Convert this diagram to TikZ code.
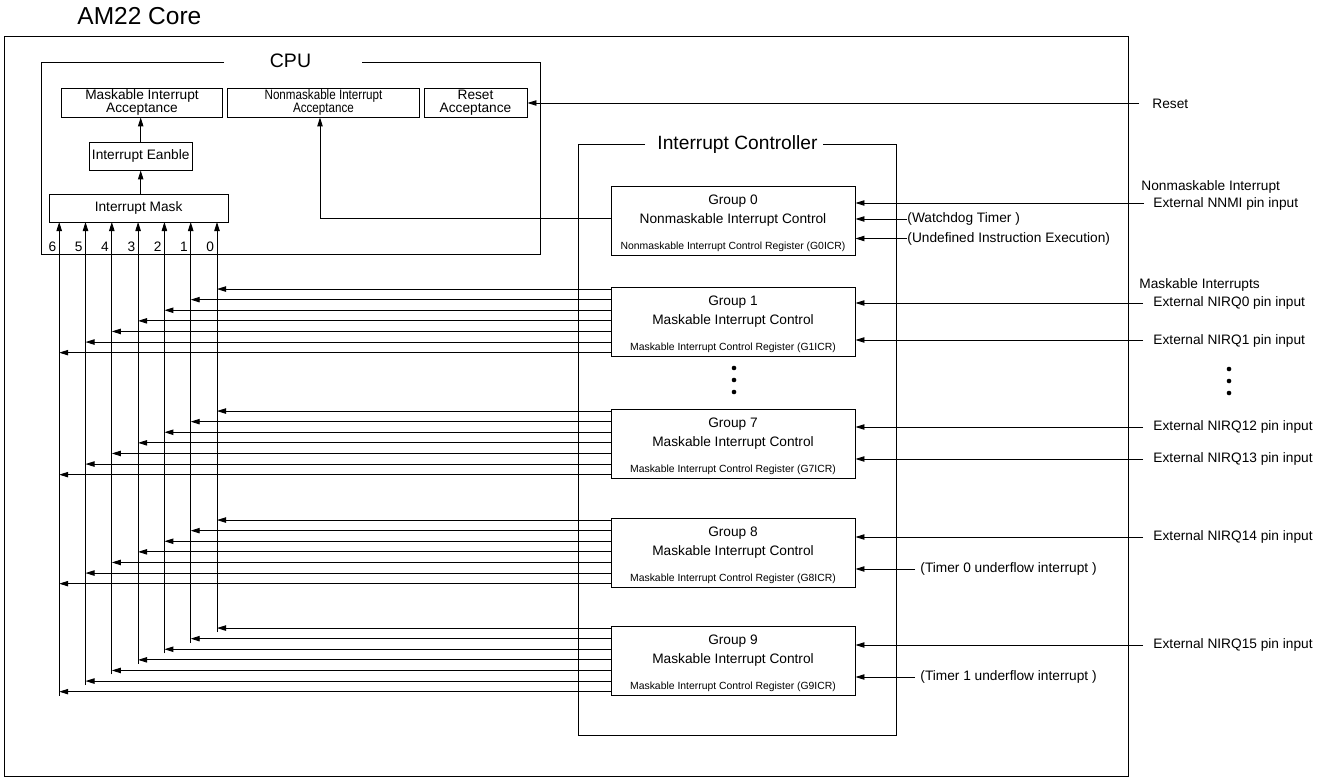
\documentclass[tikz,border=0pt]{standalone}
\usepackage{fontspec}
\setmainfont{Liberation Sans}
\usepackage{graphicx}
\usetikzlibrary{arrows.meta,calc}

\newcommand\fsz[1]{\fontsize{#1}{#1}\selectfont}
\newcommand\narrow[1]{\scalebox{0.85}[1]{#1}}

% one interrupt group: name, top edge, three text lines
\newcommand\ctlgroup[5]{%
  \node[box, minimum width=244pt, minimum height=69pt] (#1) at (733,#2+34.5) {};
  \node[lbl] (#1-a) at ($(#1.north)+(0,15.5)$) {#3};
  \node[lbl] (#1-b) at ($(#1.north)+(0,34.5)$) {#4};
  \node[small] (#1-c) at ($(#1.north)+(0,61.5)$) {#5};
}
% seven level outputs of a maskable group, one per mask input
\newcommand\leveloutputs[1]{%
  \foreach \k in {0,...,6} {
    \coordinate (#1-o\k) at ($(#1.north west)+(0,2.5+10.6*\k)$);
    \draw[arr] (#1-o\k) -- (b\k |- #1-o\k);
  }
}

\begin{document}
\begin{tikzpicture}[x=1pt,y=-1pt,line width=0.9pt,
  arr/.style={-{Triangle[length=9pt,width=5.4pt]}},
  box/.style={draw, inner sep=0pt, align=center},
  lbl/.style={font=\fsz{13.7}, inner sep=0pt},
  small/.style={font=\fsz{10.4}, inner sep=0pt},
  two/.style={box, font=\fontsize{13.7}{13.3}\selectfont},
  dot/.style={circle, fill, inner sep=0pt, minimum size=4.6pt}]

\useasboundingbox (0,0) rectangle (1329,778);

% core frame and title
\draw (4,36.5) rectangle (1128,776.5);
\node[font=\fsz{24.5}, anchor=base west, inner sep=0pt] (core) at (77,25) {AM22 Core};

% CPU frame
\draw (224,62) -- (41,62) -- (41,254) -- (540,254) -- (540,62) -- (362,62);
\node[font=\fsz{19.5}, anchor=base, inner sep=0pt] (cpu) at (290.5,68) {CPU};

\node[two, minimum width=161pt, minimum height=29pt] (MIA) at (142,102.5)
  {Maskable Interrupt\\Acceptance};
\node[two, minimum width=192pt, minimum height=29pt] (NMIA) at (323.5,102.5)
  {\narrow{Nonmaskable Interrupt}\\\narrow{Acceptance}};
\node[two, minimum width=103pt, minimum height=29pt] (RA) at (475.5,102.5)
  {Reset\\Acceptance};
\node[box, font=\fsz{13.7}, minimum width=103pt, minimum height=28pt] (IE) at (140.7,156)
  {Interrupt Eanble};
\node[box, font=\fsz{13.7}, minimum width=179pt, minimum height=28pt] (IM) at (138.6,208)
  {Interrupt Mask};

\draw[arr] (IE.north) -- (IE.north |- MIA.south);
\draw[arr] (IE.south |- IM.north) -- (IE.south);

% mask inputs 0..6
\foreach \k/\x in {0/217,1/190.7,2/164.4,3/138.1,4/111.8,5/85.5,6/59.2} {
  \coordinate (b\k) at (\x,222);
  \node[lbl, anchor=east] (n\k) at (\x-2.5,247) {\k};
}

% interrupt controller frame
\draw (645,144) -- (578,144) -- (578,735) -- (896,735) -- (896,144) -- (823,144);
\node[font=\fsz{19.2}, anchor=base, inner sep=0pt] (ic) at (737.5,150) {Interrupt Controller};

\ctlgroup{G0}{186}{Group 0}{Nonmaskable Interrupt Control}{Nonmaskable Interrupt Control Register (G0ICR)}
\ctlgroup{G1}{287}{Group 1}{Maskable Interrupt Control}{Maskable Interrupt Control Register (G1ICR)}
\ctlgroup{G7}{409}{Group 7}{Maskable Interrupt Control}{Maskable Interrupt Control Register (G7ICR)}
\ctlgroup{G8}{518}{Group 8}{Maskable Interrupt Control}{Maskable Interrupt Control Register (G8ICR)}
\ctlgroup{G9}{626}{Group 9}{Maskable Interrupt Control}{Maskable Interrupt Control Register (G9ICR)}

\node[dot] (cd1) at (734,368) {};
\node[dot] (cd2) at (734,380) {};
\node[dot] (cd3) at (734,392) {};

\leveloutputs{G1}
\leveloutputs{G7}
\leveloutputs{G8}
\leveloutputs{G9}

% mask input lines, from the last group up to the mask
\foreach \k in {0,...,6}
  \draw[arr] ($(b\k |- G9-o\k)+(0,4)$) -- (b\k);

% nonmaskable request to the CPU
\coordinate (g0-nmi) at ($(G0.west)+(0,-2.5)$);
\draw[arr] (g0-nmi) -| ($(NMIA.south)+(-3.5,0)$);

% reset
\node[lbl, anchor=west] (reset) at (1152,104) {Reset};
\coordinate (reset-in) at (1139,103);
\draw[arr] (reset-in) -- (RA.east |- reset-in);

% group 0 sources
\node[lbl, anchor=west] (nmihdr) at (1141,187) {Nonmaskable Interrupt};
\node[lbl, anchor=west] (nnmi) at (1153,204) {External NNMI pin input};
\coordinate (nnmi-in) at (1144,203);
\draw[arr] (nnmi-in) -- (G0.east |- nnmi-in);
\node[lbl, anchor=west] (wdt) at (907,219) {(Watchdog Timer )};
\draw[arr] (wdt.west) -- (G0.east |- wdt.west);
\node[lbl, anchor=west] (undef) at (907,238.5) {(Undefined Instruction Execution)};
\draw[arr] (undef.west) -- (G0.east |- undef.west);

% maskable sources
\node[lbl, anchor=west] (mihdr) at (1139,285) {Maskable Interrupts};
\node[lbl, anchor=west] (irq0) at (1153,302.5) {External NIRQ0 pin input};
\coordinate (irq0-in) at (1143,303);
\draw[arr] (irq0-in) -- (G1.east |- irq0-in);
\node[lbl, anchor=west] (irq1) at (1153,340.5) {External NIRQ1 pin input};
\coordinate (irq1-in) at (1143,340);
\draw[arr] (irq1-in) -- (G1.east |- irq1-in);

\node[dot] (rd1) at (1229,369) {};
\node[dot] (rd2) at (1229,381) {};
\node[dot] (rd3) at (1229,393) {};

\node[lbl, anchor=west] (irq12) at (1153,427) {External NIRQ12 pin input};
\coordinate (irq12-in) at (1143,427);
\draw[arr] (irq12-in) -- (G7.east |- irq12-in);
\node[lbl, anchor=west] (irq13) at (1153,459) {External NIRQ13 pin input};
\coordinate (irq13-in) at (1143,459);
\draw[arr] (irq13-in) -- (G7.east |- irq13-in);

\node[lbl, anchor=west] (irq14) at (1153,537) {External NIRQ14 pin input};
\coordinate (irq14-in) at (1143,537);
\draw[arr] (irq14-in) -- (G8.east |- irq14-in);
\node[lbl, anchor=west] (tm0) at (920,569) {(Timer 0 underflow interrupt )};
\coordinate (tm0-in) at (915,569);
\draw[arr] (tm0-in) -- (G8.east |- tm0-in);

\node[lbl, anchor=west] (irq15) at (1153,645) {External NIRQ15 pin input};
\coordinate (irq15-in) at (1143,645);
\draw[arr] (irq15-in) -- (G9.east |- irq15-in);
\node[lbl, anchor=west] (tm1) at (920,677) {(Timer 1 underflow interrupt )};
\coordinate (tm1-in) at (915,677);
\draw[arr] (tm1-in) -- (G9.east |- tm1-in);

\end{tikzpicture}
\end{document}
